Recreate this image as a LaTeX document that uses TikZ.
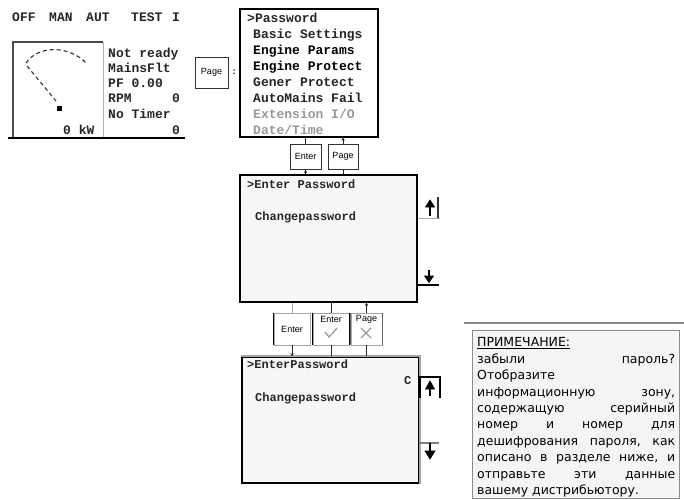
\documentclass[tikz,border=0pt]{standalone}
\usepackage{fontspec}
\setmainfont{Liberation Sans}
\newfontfamily\lcd{Liberation Mono}
\newfontfamily\notefont{DejaVu Sans}
\usetikzlibrary{arrows.meta}
\newcommand{\jline}[1]{\hbox to 198pt{#1}}
\begin{document}
\begin{tikzpicture}[x=1pt,y=-1pt,
  lcdtext/.style={font=\lcd\bfseries\fontsize{13}{13}\selectfont, anchor=base west, inner sep=0pt, text=black!85},
  lcdsmall/.style={font=\lcd\bfseries\fontsize{12}{12}\selectfont, anchor=base west, inner sep=0pt, text=black!85},
  greytext/.style={lcdtext, text=black!40},
  screen/.style={draw=black, line width=1.6pt, fill=black!3, rectangle, inner sep=0pt},
  keybox/.style={draw=black!80, line width=0.9pt, fill=white, rectangle, inner sep=0pt, font=\fontsize{9}{9}\selectfont},
  link/.style={draw=black!85, line width=0.9pt},
  arr/.style={link, -{Stealth[length=3pt,width=3.5pt]}},
  glyph/.style={fill=black, draw=black, line width=0.6pt},
]
\useasboundingbox (0,0) rectangle (684,499);

% ---------- main screen ----------
\node[lcdtext] (t1) at (12,21) {OFF};
\node[lcdtext] (t2) at (49,21) {MAN};
\node[lcdtext] (t3) at (86,21) {AUT};
\node[lcdtext] (t4) at (131,21) {TEST};
\node[lcdtext] (t5) at (172,21) {I};
\draw[black!70, line width=1.2pt] (13,138) -- (13,42) -- (103,42);
\draw[black!30, line width=0.8pt] (103,42) -- (103,138);
\draw[black, line width=1.8pt] (8,138) -- (185,138);
\draw[black!80, line width=1.1pt, dash pattern=on 4pt off 3pt] (26,63) .. controls (38,45) and (70,45) .. (87,64);
\draw[black!80, line width=1.1pt, dash pattern=on 4pt off 3pt] (27,66) -- (56,101);
\fill[black] (56.5,105.5) rectangle (61.5,110.5);
\node[lcdtext] (r1) at (108,57) {Not ready};
\node[lcdtext] (r2) at (108,72) {MainsFlt};
\node[lcdtext] (r3) at (108,87) {PF 0.00};
\node[lcdtext] (r4) at (108,102) {RPM};
\node[lcdtext] (r4b) at (172,102) {0};
\node[lcdtext] (r5) at (108,118) {No Timer};
\node[lcdtext] (r6) at (63,134) {0 kW};
\node[lcdtext] (r7) at (172,134) {0};

% ---------- page key ----------
\node[keybox, minimum width=33pt, minimum height=31pt] (page1) at (211.5,72.5) {Page};
\node[inner sep=0pt, font=\bfseries\fontsize{9}{9}\selectfont] (colon) at (234,72) {:};

% ---------- menu ----------
\node[draw=black, line width=1.4pt, fill=white, rectangle, inner sep=0pt, minimum width=138pt, minimum height=128pt] (menu) at (309,73) {};
\node[lcdtext] (m0) at (247,22) {>Password};
\node[lcdtext] (m1) at (253,38) {Basic Settings};
\node[lcdtext, text=black] (m2) at (253,54) {Engine Params};
\node[lcdtext, text=black] (m3) at (253,70) {Engine Protect};
\node[lcdtext] (m4) at (253,86) {Gener Protect};
\node[lcdtext] (m5) at (253,102) {AutoMains Fail};
\node[greytext] (m6) at (253,118) {Extension I/O};
\node[greytext] (m7) at (253,134) {Date/Time};

% ---------- keys under menu ----------
\node[keybox, minimum width=31pt, minimum height=25pt] (ent1) at (305.5,156.5) {Enter};
\node[keybox, minimum width=30pt, minimum height=25pt] (pg1) at (343,156.5) {Page};

% ---------- screen 3 ----------
\node[screen, minimum width=177pt, minimum height=127pt] (scr3) at (328.5,238.5) {};
\node[lcdsmall] (s3a) at (247,188) {>Enter Password};
\node[lcdsmall] (s3b) at (255,220) {Changepassword};

\draw[link] (ent1.north |- menu.south) -- (ent1.north);
\draw[arr] (ent1.south) -- (ent1.south |- scr3.north);
\draw[arr] (pg1.north) -- (pg1.north |- menu.south);
\draw[link] (pg1.south) -- (pg1.south |- scr3.north);

% up / down keys screen 3
\draw[black!80, line width=1.2pt] (438,197) -- (438,218);
\draw[black!35, line width=1pt] (418,218) -- (440,218);
\fill[glyph] (430,200) -- (425.5,207) -- (434.5,207) -- cycle;
\draw[black, line width=2pt] (430,206) -- (430,216);
\draw[black, line width=1.3pt] (418,285) -- (439,285);
\draw[black, line width=2pt] (429,270) -- (429,277);
\fill[glyph] (424.5,276) -- (433.5,276) -- (429,282.5) -- cycle;

% ---------- keys between screen 3 and 4 ----------
\node[keybox, draw=black!35, minimum width=36pt, minimum height=32pt] (eA) at (292,329) {Enter};
\node[keybox, draw=black!35, minimum width=36pt, minimum height=32pt] (eB) at (331,329) {};
\node[keybox, draw=black!35, minimum width=31pt, minimum height=32pt] (pB) at (366.5,329) {};
\draw[black, line width=1pt] (eA.north west) -- (eA.south west);
\draw[black, line width=1pt] (eB.north west) -- (eB.south west) (eB.north east) -- (eB.south east);
\draw[black!60, line width=1pt] (pB.north east) -- (pB.south east) (pB.north west) -- (pB.south west);
\node[inner sep=0pt, font=\fontsize{9}{9}\selectfont] (eBt) at (331,319) {Enter};
\node[inner sep=0pt, font=\fontsize{9}{9}\selectfont] (pBt) at (366.5,319) {Page};
\draw[black!40, line width=1.3pt] (325,332) -- (329,337) -- (337,328);
\draw[black!40, line width=1.3pt] (361,328) -- (371,338) (361,338) -- (371,328);

% ---------- screen 4 ----------
\node[screen, minimum width=177pt, minimum height=126pt] (scr4) at (330.5,420) {};
\draw[black!35, line width=1.6pt] (scr4.south east) -- (scr4.north east) -- (scr4.north west);
\node[lcdsmall] (s4a) at (247,368) {>EnterPassword};
\node[lcdsmall] (s4b) at (255,401) {Changepassword};
\node[lcdsmall] (s4c) at (404,384) {C};

\draw[link, draw=black!35] (eA.north |- scr3.south) -- (eA.north);
\draw[arr] (eA.south) -- (eA.south |- scr4.north);
\draw[link] (eB.north |- scr3.south) -- (eB.north);
\draw[link] (eB.south) -- (eB.south |- scr4.north);
\draw[arr] (pB.north) -- (pB.north |- scr3.south);
\draw[link] (pB.south) -- (pB.south |- scr4.north);

% up / down keys screen 4
\draw[black, line width=1.2pt] (419,377) -- (440,377) -- (440,398);
\draw[black, line width=1.2pt] (420,377) -- (420,398);
\fill[glyph] (430,381) -- (425.5,389) -- (434.5,389) -- cycle;
\draw[black, line width=2pt] (430,388) -- (430,396);
\draw[black!50, line width=1.2pt] (419,443) -- (439,443);
\draw[black, line width=1.6pt] (430,443) -- (430,452);
\fill[glyph] (425,451) -- (435,451) -- (430,459) -- cycle;

% ---------- note ----------
\draw[black!45, line width=2pt] (464,323) -- (684,323);
\node[draw=black!45, line width=1pt, fill=black!4, rectangle, inner sep=0pt, minimum width=207pt, minimum height=168pt] (note) at (575.5,414) {};
\node[anchor=north west, inner sep=0pt, align=left, text=black,
      font=\notefont\fontsize{12.5}{16.4}\selectfont] (notetext) at (477,337.5) {%
\jline{\underline{ПРИМЕЧАНИЕ:}\hfill}\\
\jline{забыли\hfill пароль?}\\
\jline{Отобразите\hfill}\\
\jline{информационную\hfill зону,}\\
\jline{содержащую\hfill серийный}\\
\jline{номер\hfill и\hfill номер\hfill для}\\
\jline{дешифрования\hfill пароля,\hfill как}\\
\jline{описано\hfill в\hfill разделе\hfill ниже,\hfill и}\\
\jline{отправьте\hfill эти\hfill данные}\\
\jline{вашему дистрибьютору.\hfill}};
\end{tikzpicture}
\end{document}
